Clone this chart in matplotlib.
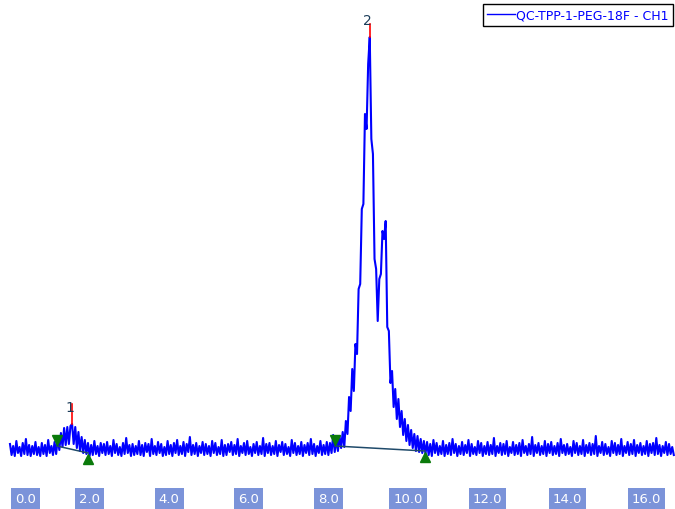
import numpy as np
import matplotlib
matplotlib.use("Agg")
import matplotlib.pyplot as plt

# ---- data (detector response, arbitrary units; sampled every 0.04 min) ----
dt = 0.04
signal = [
    5, -6, 3, -7, 8, -4, 2, -7, 6, -5, 10, -6, 4, -7, 3, -5, 7, -6, 2, -7,
    6, -5, 4, -7, 9, -4, 3, -6, 7, -5, 11, -1, 16, 2, 21, 4, 22, 5, 23, 25,
    5, 22, 1, 17, -2, 12, -4, 9, -5, 6, -7, 4, -6, 8, -5, 3, -7, 6, -4, 5,
    -6, 7, -5, 3, -7, 9, -4, 5, -6, 2, -7, 6, -5, 11, -4, 4, -7, 5, -6, 3,
    -5, 8, -6, 4, -7, 6, -3, 5, -7, 10, -5, 3, -6, 7, -4, 5, -7, 2, -6, 8,
    -5, 4, -7, 6, -4, 9, -6, 3, -5, 7, -7, 5, -3, 12, -6, 4, -5, 6, -7, 3,
    -4, 7, -6, 5, -5, 3, -7, 8, -4, 6, -6, 2, -5, 9, -7, 4, -6, 5, -3, 7,
    -6, 4, -5, 10, -7, 3, -4, 6, -6, 8, -5, 2, -7, 5, -4, 7, -6, 3, -5, 11,
    -7, 5, -4, 6, -6, 3, -5, 8, -7, 4, -3, 7, -6, 5, -5, 2, -7, 9, -4, 6,
    -6, 3, -5, 7, -7, 4, -4, 6, -6, 10, -5, 5, -7, 3, -4, 8, -6, 4, -5, 7,
    -6, 6, -4, 14, -3, 10, -2, 13, 1, 17, 2, 28, 15, 52, 38, 80, 58, 105, 95, 160,
    165, 240, 245, 335, 320, 385, 412, 310, 295, 190, 180, 128, 170, 175, 218, 210, 228, 122, 118, 66,
    78, 42, 60, 30, 50, 22, 38, 14, 30, 8, 24, 4, 19, 1, 15, -2, 13, -3, 10, -4,
    8, -5, 7, -6, 5, -7, 9, -4, 6, -6, 3, -5, 8, -7, 4, -5, 6, -6, 10, -4,
    5, -7, 3, -5, 7, -6, 4, -4, 9, -7, 5, -5, 2, -6, 8, -4, 6, -7, 3, -5,
    7, -6, 4, -5, 11, -7, 3, -4, 6, -6, 5, -5, 8, -7, 2, -4, 7, -6, 4, -5,
    6, -7, 9, -4, 3, -6, 5, -5, 12, -7, 4, -4, 6, -6, 3, -5, 8, -7, 5, -4,
    7, -6, 3, -5, 6, -7, 10, -4, 4, -6, 5, -5, 2, -7, 8, -4, 6, -6, 3, -5,
    9, -7, 4, -4, 6, -6, 5, -5, 13, -7, 3, -4, 7, -6, 5, -5, 2, -7, 8, -4,
    6, -6, 4, -5, 10, -7, 3, -4, 7, -6, 5, -5, 9, -7, 4, -4, 6, -6, 3, -5,
    8, -7, 5, -4, 6, -6, 11, -5, 4, -7, 3, -4, 7, -6, 5, -5, 2, -6,
]
times = np.arange(len(signal)) * dt

peak_labels = ["1", "2"]
peak_apex_t = [1.56, 9.04]
peak_apex_h = [25, 412]
peak_start_t = [1.18, 8.17]
peak_start_h = [3, 3]
peak_end_t = [1.96, 10.43]
peak_end_h = [-4, -2]

tick_values = [0.0, 2.0, 4.0, 6.0, 8.0, 10.0, 12.0, 14.0, 16.0]
series_name = "QC-TPP-1-PEG-18F - CH1"

# ---- figure ----
fig = plt.figure(figsize=(6.75, 5.10), dpi=100)
ax = fig.add_axes([0, 0, 1, 1])
ax.set_xlim(-0.251, 16.71)
ax.set_ylim(-60, 450)
ax.axis("off")

line, = ax.plot(times, signal, color="#0000ff", lw=1.5, label=series_name, zorder=2)

# baselines and start/end markers
for s_t, s_h, e_t, e_h in zip(peak_start_t, peak_start_h, peak_end_t, peak_end_h):
    ax.plot([s_t, e_t], [s_h, e_h], color="#1f4a6a", lw=1.1, zorder=3)
    ax.plot([s_t], [s_h + 6], marker="v", color="#0a7a0a", ms=7, mec="#0a7a0a", zorder=4)
    ax.plot([e_t], [e_h - 6], marker="^", color="#0a7a0a", ms=7, mec="#0a7a0a", zorder=4)

# apex markers & labels
red_len = [20, 13]
for lab, t, h, rl in zip(peak_labels, peak_apex_t, peak_apex_h, red_len):
    ax.plot([t, t], [h, h + rl], color="#ff0000", lw=1.2, zorder=3)
    ax.text(t - 0.065, h + 10, lab, ha="center", va="bottom", color="#1c3d5a",
            fontsize=10, zorder=5)

# tick labels in boxes
for v in tick_values:
    xpos = max(v, 0.38)
    ax.text(xpos, -49.5, f"{v:.1f}", ha="center", va="center", color="white",
            fontsize=9.5,
            bbox=dict(boxstyle="square,pad=0.3", fc="#7b93d9", ec="none"))

leg = ax.legend(handles=[line], loc="upper right",
                bbox_to_anchor=(673 / 675, 1 - 5 / 510), borderaxespad=0,
                fancybox=False, edgecolor="black", framealpha=1,
                fontsize=9, labelcolor="#0000ff", handlelength=2.2,
                handletextpad=0.1, borderpad=0.35)
leg.get_frame().set_linewidth(1.0)
leg.get_lines()[0].set_linewidth(1.0)

fig.savefig("out.png", dpi=100)
